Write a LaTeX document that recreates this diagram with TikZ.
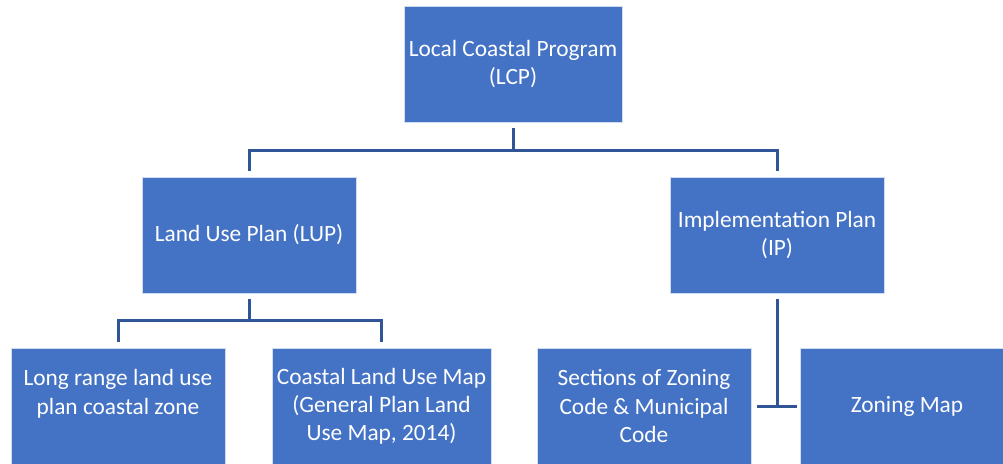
\documentclass[tikz,border=0pt]{standalone}
\usepackage{fontspec}
\setmainfont{Carlito}
\usepackage{xcolor}
\usetikzlibrary{positioning, calc}

\definecolor{boxblue}{HTML}{4472C4}
\definecolor{linkblue}{HTML}{2F5597}

\begin{document}
\begin{tikzpicture}[x=0.025cm, y=-0.025cm,
  box/.style={rectangle, fill=boxblue, draw=white!75!boxblue, line width=0.5pt, text=white, minimum width=5.35cm, minimum height=2.9cm, align=center, font=\fontsize{16.6}{20}\selectfont},
  link/.style={draw=linkblue, line width=0.075cm}]
\useasboundingbox (0,0) rectangle (1003,463);
\clip (0,0) rectangle (1003,463);

\node[box] (lcp) at (513,64) {Local Coastal Program\\(LCP)};
\node[box] (lup) at (249,235) {Land Use Plan (LUP)};
\node[box] (ip) at (777,235) {Implementation Plan\\(IP)};

\node[box] (longrange) at (118,406) {Long range land use\\plan coastal zone\\\mbox{}};
\node[box] (landmap) at (381.5,406) {Coastal Land Use Map\\(General Plan Land\\Use Map, 2014)};
\node[box] (zoning) at (644,406) {Sections of Zoning\\Code \& Municipal\\Code};
\node[box] (zonemap) at (907,406) {Zoning Map};

% LCP to the two plans
\draw[link, shorten <=4, shorten >=4] (lcp.south) -- ++(0,28) -| (lup.north);
\draw[link, shorten <=4, shorten >=4] (lcp.south) -- ++(0,28) -| (ip.north);

% LUP parts
\draw[link, shorten <=4, shorten >=4] (lup.south) -- ++(0,27) -| (longrange.north);
\draw[link, shorten <=4, shorten >=4] (lup.south) -- ++(0,27) -| (landmap.north);

% IP parts
\draw[link, shorten <=4] (ip.south) -- (ip.south |- zoning.east);
\draw[link, shorten <=4, shorten >=2] (zoning.east) -- (zonemap.west);
\end{tikzpicture}
\end{document}
